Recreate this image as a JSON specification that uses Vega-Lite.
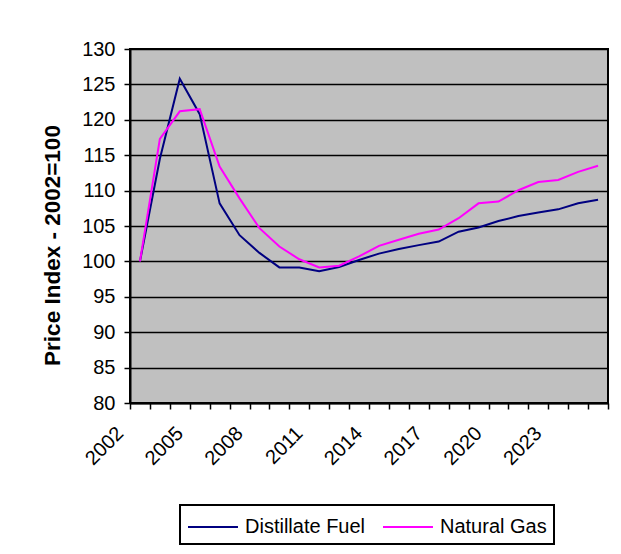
{
  "$schema": "https://vega.github.io/schema/vega-lite/v6.json",
  "width": 478,
  "height": 354,
  "autosize": {"type": "none"},
  "padding": {"left": 130, "top": 49, "right": 13, "bottom": 151},
  "background": "white",
  "datasets": {
    "prices": [
      {"year": 2002, "series": "Distillate Fuel", "value": 100},
      {"year": 2003, "series": "Distillate Fuel", "value": 114.5},
      {"year": 2004, "series": "Distillate Fuel", "value": 125.8},
      {"year": 2005, "series": "Distillate Fuel", "value": 120.8},
      {"year": 2006, "series": "Distillate Fuel", "value": 108.2},
      {"year": 2007, "series": "Distillate Fuel", "value": 103.7},
      {"year": 2008, "series": "Distillate Fuel", "value": 101.2},
      {"year": 2009, "series": "Distillate Fuel", "value": 99.15},
      {"year": 2010, "series": "Distillate Fuel", "value": 99.15},
      {"year": 2011, "series": "Distillate Fuel", "value": 98.6},
      {"year": 2012, "series": "Distillate Fuel", "value": 99.2},
      {"year": 2013, "series": "Distillate Fuel", "value": 100.2},
      {"year": 2014, "series": "Distillate Fuel", "value": 101.1},
      {"year": 2015, "series": "Distillate Fuel", "value": 101.75},
      {"year": 2016, "series": "Distillate Fuel", "value": 102.3},
      {"year": 2017, "series": "Distillate Fuel", "value": 102.8},
      {"year": 2018, "series": "Distillate Fuel", "value": 104.2},
      {"year": 2019, "series": "Distillate Fuel", "value": 104.8},
      {"year": 2020, "series": "Distillate Fuel", "value": 105.7},
      {"year": 2021, "series": "Distillate Fuel", "value": 106.4},
      {"year": 2022, "series": "Distillate Fuel", "value": 106.9},
      {"year": 2023, "series": "Distillate Fuel", "value": 107.35},
      {"year": 2024, "series": "Distillate Fuel", "value": 108.2},
      {"year": 2025, "series": "Distillate Fuel", "value": 108.7},
      {"year": 2002, "series": "Natural Gas", "value": 100},
      {"year": 2003, "series": "Natural Gas", "value": 117.3},
      {"year": 2004, "series": "Natural Gas", "value": 121.2},
      {"year": 2005, "series": "Natural Gas", "value": 121.5},
      {"year": 2006, "series": "Natural Gas", "value": 113.4},
      {"year": 2007, "series": "Natural Gas", "value": 108.9},
      {"year": 2008, "series": "Natural Gas", "value": 104.7},
      {"year": 2009, "series": "Natural Gas", "value": 102.1},
      {"year": 2010, "series": "Natural Gas", "value": 100.3},
      {"year": 2011, "series": "Natural Gas", "value": 99.15},
      {"year": 2012, "series": "Natural Gas", "value": 99.4},
      {"year": 2013, "series": "Natural Gas", "value": 100.7},
      {"year": 2014, "series": "Natural Gas", "value": 102.2},
      {"year": 2015, "series": "Natural Gas", "value": 103.05},
      {"year": 2016, "series": "Natural Gas", "value": 103.9},
      {"year": 2017, "series": "Natural Gas", "value": 104.5},
      {"year": 2018, "series": "Natural Gas", "value": 106.1},
      {"year": 2019, "series": "Natural Gas", "value": 108.2},
      {"year": 2020, "series": "Natural Gas", "value": 108.45},
      {"year": 2021, "series": "Natural Gas", "value": 110.05},
      {"year": 2022, "series": "Natural Gas", "value": 111.2},
      {"year": 2023, "series": "Natural Gas", "value": 111.5},
      {"year": 2024, "series": "Natural Gas", "value": 112.65},
      {"year": 2025, "series": "Natural Gas", "value": 113.5}
    ]
  },
  "data": {"name": "prices"},
  "mark": {"type": "line", "strokeWidth": 2},
  "encoding": {
    "x": {
      "field": "year",
      "type": "ordinal",
      "scale": {"type": "band", "paddingInner": 0, "paddingOuter": 0},
      "axis": {
        "title": null,
        "tickBand": "extent",
        "grid": false,
        "labelAngle": -45,
        "labelAlign": "right",
        "labelBaseline": "middle",
        "labelOffset": -20,
        "labelPadding": 21,
        "labelExpr": "(datum.value - 2002) % 3 == 0 ? datum.label : ''",
        "labelFont": "Liberation Sans",
        "labelFontSize": 20,
        "labelColor": "black",
        "domainColor": "black",
        "domainWidth": 2,
        "tickColor": "black",
        "tickSize": 6,
        "tickWidth": 1.5
      }
    },
    "y": {
      "field": "value",
      "type": "quantitative",
      "scale": {"domain": [80, 130], "nice": false, "zero": false},
      "axis": {
        "values": [80, 85, 90, 95, 100, 105, 110, 115, 120, 125, 130],
        "title": "Price Index - 2002=100",
        "titleFont": "Liberation Sans",
        "titleFontSize": 22.5,
        "titleFontWeight": "bold",
        "titleColor": "black",
        "titlePadding": 17,
        "titleY": 196,
        "labelFont": "Liberation Sans",
        "labelFontSize": 20,
        "labelColor": "black",
        "labelPadding": 9,
        "domainColor": "black",
        "domainWidth": 2,
        "tickColor": "black",
        "tickSize": 6,
        "tickWidth": 1.5,
        "grid": true,
        "gridColor": "black",
        "gridWidth": 1.5
      }
    },
    "color": {
      "field": "series",
      "type": "nominal",
      "scale": {"domain": ["Distillate Fuel", "Natural Gas"], "range": ["#000080", "#FF00FF"]},
      "legend": {
        "title": null,
        "orient": "none",
        "legendX": 50,
        "legendY": 456,
        "direction": "horizontal",
        "symbolType": "M-1,0H2.57",
        "symbolSize": 784,
        "symbolStrokeWidth": 2,
        "labelFont": "Liberation Sans",
        "labelFontSize": 20,
        "labelColor": "black",
        "labelLimit": 300,
        "labelOffset": 28,
        "columnPadding": 13,
        "strokeColor": "black",
        "padding": 7
      }
    }
  },
  "config": {
    "view": {"fill": "#C0C0C0", "stroke": "black", "strokeWidth": 2},
    "legend": {"strokeWidth": 2}
  }
}
